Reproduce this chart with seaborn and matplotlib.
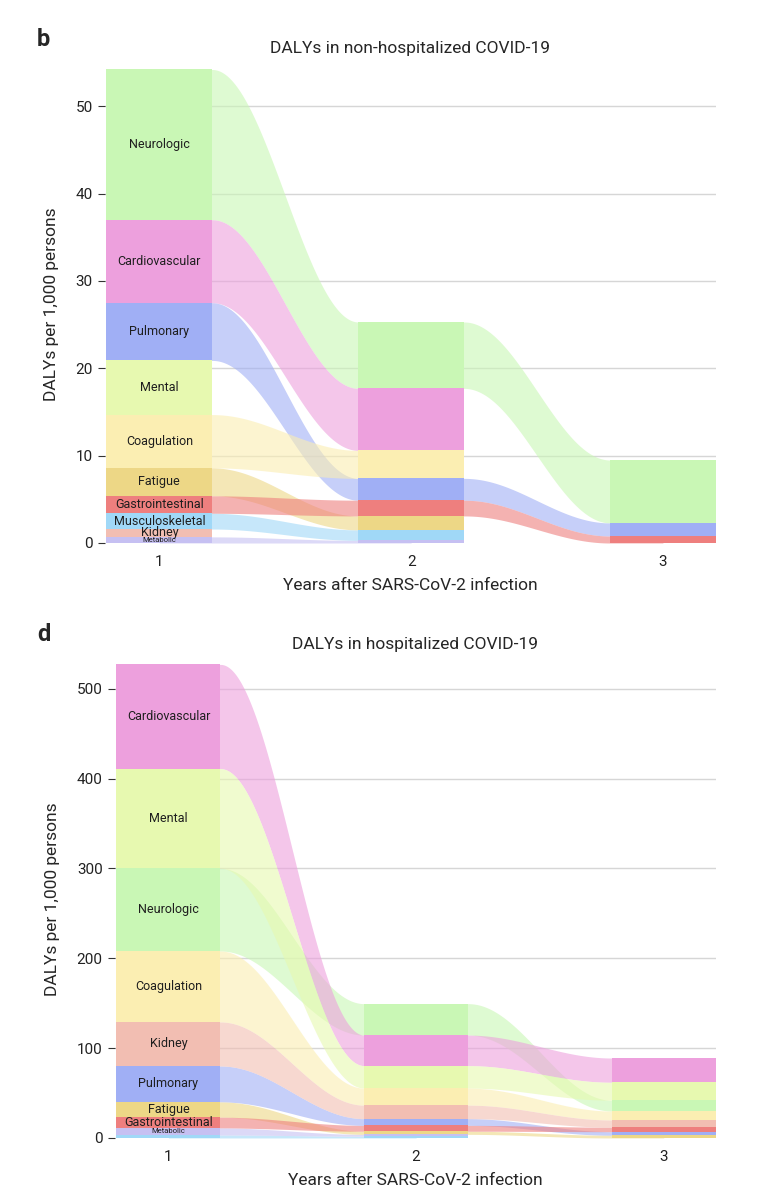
import numpy as np
import matplotlib
matplotlib.use('Agg')
import matplotlib.pyplot as plt
import seaborn as sns

# DALYs per 1,000 persons
categories = ['Neurologic', 'Cardiovascular', 'Pulmonary', 'Mental', 'Coagulation',
              'Fatigue', 'Gastrointestinal', 'Musculoskeletal', 'Kidney', 'Metabolic']
years = [1, 2, 3]

# non-hospitalized
nonhosp_y1 = [17.2, 9.5, 6.6, 6.2, 6.1, 3.2, 2.0, 1.8, 0.9, 0.7]
nonhosp_y2 = [7.6, 7.1, 2.5, 0.0, 3.2, 1.6, 1.8, 1.2, 0.0, 0.3]
nonhosp_y3 = [7.2, 0.0, 1.5, 0.0, 0.0, 0.0, 0.8, 0.0, 0.0, 0.0]

# hospitalized
hosp_y1 = [92, 116, 40, 111, 79, 17, 12, 3.3, 49, 7.8]
hosp_y2 = [35, 34, 7.5, 25, 19, 3.5, 6.5, 2.0, 15, 2.0]
hosp_y3 = [12, 27, 4, 20, 10, 3, 5, 0.0, 8, 0.0]

nonhosp_labels = categories
hosp_labels = ['Cardiovascular', 'Mental', 'Neurologic', 'Coagulation', 'Kidney',
               'Pulmonary', 'Fatigue', 'Gastrointestinal', 'Metabolic']

colors = sns.color_palette(['#c9f7b5', '#eda0dd', '#a0aff5', '#e7f9b0', '#fbeeb2',
                            '#edd786', '#ee7f7e', '#a0d8f7', '#f2beb2', '#c6c0f2'])
col = dict(zip(categories, colors))

sns.set_theme(style='white')
plt.rcParams['font.family'] = ['Roboto', 'DejaVu Sans']

BAR_W = 0.42


def stack(vals):
    # largest on top, smallest at the bottom
    order = sorted(range(len(vals)), key=lambda i: vals[i])
    lo, hi = {}, {}
    base = 0.0
    for i in order:
        if vals[i] <= 0:
            continue
        lo[categories[i]] = base
        base += vals[i]
        hi[categories[i]] = base
    return lo, hi


def alluvial(ax, year_vals, labels, grid_ticks):
    stacks = [stack(v) for v in year_vals]
    # flows between consecutive years (flat under the bars, smooth across the gap)
    for k in range(len(years) - 1):
        lo1, hi1 = stacks[k]
        lo2, hi2 = stacks[k + 1]
        x0 = years[k] + BAR_W / 2
        x1 = years[k + 1] - BAR_W / 2
        xg = np.linspace(x0, x1, 100)
        xs = np.concatenate([[years[k]], xg, [years[k + 1]]])
        s = (1 - np.cos(np.pi * (xg - x0) / (x1 - x0))) / 2
        s = np.concatenate([[0], s, [1]])
        for c in categories:
            if c in lo1 and c in lo2:
                ax.fill_between(xs, lo1[c] + (lo2[c] - lo1[c]) * s,
                                hi1[c] + (hi2[c] - hi1[c]) * s,
                                color=col[c], alpha=0.6, lw=0, zorder=1)
    # bars
    for k, yr in enumerate(years):
        lo, hi = stacks[k]
        for c in lo:
            ax.bar(yr, hi[c] - lo[c], bottom=lo[c], width=BAR_W,
                   color=col[c], lw=0, zorder=2)
    # labels in the first bar
    lo, hi = stacks[0]
    for c in labels:
        fs = 5.5 if c == 'Metabolic' else 9
        ax.text(years[0], (lo[c] + hi[c]) / 2, c, ha='center', va='center',
                fontsize=fs, color='#1e1e1e', zorder=3)
    for g in grid_ticks[1:]:
        ax.axhline(g, color='#d6d6d6', lw=1, zorder=0)
    ax.set_yticks(grid_ticks)
    ax.set_xticks(years)
    ax.set_xlim(0.785, 3.21)
    for sp in ax.spines.values():
        sp.set_visible(False)
    ax.tick_params(axis='y', length=5, width=0.8, color='#333333', labelsize=11,
                   pad=4, left=True, labelcolor='#222222')
    ax.tick_params(axis='x', length=0, labelsize=11, pad=9, labelcolor='#222222')
    ax.set_xlabel('Years after SARS-CoV-2 infection', fontsize=12.5, labelpad=6)
    ax.set_ylabel('DALYs per 1,000 persons', fontsize=12.5, labelpad=12)


fig = plt.figure(figsize=(7.68, 12), dpi=100)

ax1 = fig.add_axes([0.137, 0.5475, 0.795, 0.3975])
alluvial(ax1, [nonhosp_y1, nonhosp_y2, nonhosp_y3], nonhosp_labels, [0, 10, 20, 30, 40, 50])
ax1.set_ylim(0, 54.6)
ax1.set_title('DALYs in non-hospitalized COVID-19', fontsize=12.5, pad=9)
fig.text(0.048, 0.967, 'b', fontsize=17, fontweight='bold', va='center', ha='left')

ax2 = fig.add_axes([0.15, 0.0517, 0.782, 0.3983])
alluvial(ax2, [hosp_y1, hosp_y2, hosp_y3], hosp_labels, [0, 100, 200, 300, 400, 500])
ax2.set_ylim(0, 532)
ax2.set_title('DALYs in hospitalized COVID-19', fontsize=12.5, pad=8)
fig.text(0.048, 0.471, 'd', fontsize=17, fontweight='bold', va='center', ha='left')

fig.savefig('out.png', dpi=100)
